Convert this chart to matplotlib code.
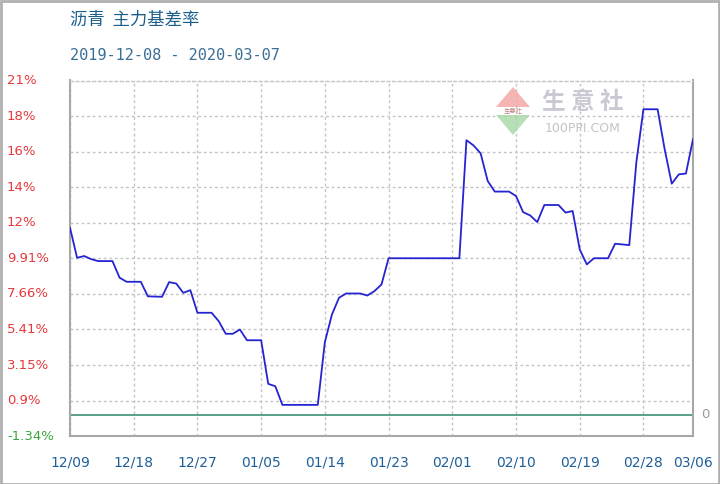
import matplotlib
matplotlib.use("Agg")
import matplotlib.pyplot as plt
import matplotlib.dates as mdates
import matplotlib.transforms as mtransforms
from matplotlib.patches import Polygon, Rectangle
import pandas as pd

plt.rcParams['font.family'] = ['DejaVu Sans', 'Noto Sans CJK SC']

title = "沥青  主力基差率"
subtitle = "2019-12-08 - 2020-03-07"

dates = ["2019-12-09", "2019-12-10", "2019-12-11", "2019-12-12", "2019-12-13",
         "2019-12-15", "2019-12-16", "2019-12-17", "2019-12-19", "2019-12-20",
         "2019-12-22", "2019-12-23", "2019-12-24", "2019-12-25", "2019-12-26",
         "2019-12-27", "2019-12-29", "2019-12-30", "2019-12-31", "2020-01-01",
         "2020-01-02", "2020-01-03", "2020-01-05", "2020-01-06", "2020-01-07",
         "2020-01-08", "2020-01-13", "2020-01-14", "2020-01-15", "2020-01-16",
         "2020-01-17", "2020-01-19", "2020-01-20", "2020-01-21", "2020-01-22",
         "2020-01-23", "2020-02-02", "2020-02-03", "2020-02-04", "2020-02-05",
         "2020-02-06", "2020-02-07", "2020-02-09", "2020-02-10", "2020-02-11",
         "2020-02-12", "2020-02-13", "2020-02-14", "2020-02-16", "2020-02-17",
         "2020-02-18", "2020-02-19", "2020-02-20", "2020-02-21", "2020-02-23",
         "2020-02-24", "2020-02-26", "2020-02-27", "2020-02-28", "2020-03-01",
         "2020-03-02", "2020-03-03", "2020-03-04", "2020-03-05", "2020-03-06"]
values = [11.84, 9.94, 10.05, 9.85, 9.73,
          9.73, 8.68, 8.42, 8.42, 7.50,
          7.47, 8.40, 8.31, 7.72, 7.89,
          6.46, 6.46, 5.93, 5.13, 5.13,
          5.40, 4.72, 4.72, 1.96, 1.81,
          0.63, 0.63, 4.60, 6.35, 7.41,
          7.68, 7.68, 7.55, 7.83, 8.25,
          9.91, 9.91, 17.38, 17.05, 16.55,
          14.80, 14.13, 14.13, 13.85, 12.83,
          12.62, 12.20, 13.28, 13.28, 12.80,
          12.90, 10.47, 9.52, 9.91, 9.91,
          10.83, 10.74, 16.00, 19.34, 19.34,
          16.80, 14.63, 15.22, 15.27, 17.44]

ytick_values = [-1.34, 0.90, 3.15, 5.41, 7.66, 9.91, 12.16, 14.41, 16.66, 18.91, 21.16]
ytick_labels = ["-1.34%", "0.9%", "3.15%", "5.41%", "7.66%", "9.91%",
                "12%", "14%", "16%", "18%", "21%"]
xtick_dates = ["2019-12-09", "2019-12-18", "2019-12-27", "2020-01-05", "2020-01-14",
               "2020-01-23", "2020-02-01", "2020-02-10", "2020-02-19", "2020-02-28",
               "2020-03-06"]
xtick_labels = ["12/09", "12/18", "12/27", "01/05", "01/14", "01/23",
                "02/01", "02/10", "02/19", "02/28", "03/06"]

W, H = 720, 484
fig = plt.figure(figsize=(W / 100, H / 100), dpi=100)
fig.patch.set_facecolor("white")

left, right, top, bottom = 70, 693, 80.5, 436
ax = fig.add_axes([left / W, 1 - bottom / H, (right - left) / W, (bottom - top) / H])

x = pd.to_datetime(dates)
ax.plot(x, values, color="#2424d2", lw=1.3, zorder=3)
ax.axhline(0, color="#3f8f78", lw=1.2, zorder=2)

ax.set_xlim(pd.Timestamp(xtick_dates[0]), pd.Timestamp(xtick_dates[-1]))
ax.set_ylim(ytick_values[0], ytick_values[-1])
ax.set_xticks(pd.to_datetime(xtick_dates))
ax.set_xticklabels(xtick_labels)
ax.set_yticks(ytick_values)
ax.set_yticklabels([])
ax.tick_params(axis="both", length=0)
ax.tick_params(axis="x", colors="#1f5f99", labelsize=10, pad=14)

ax.grid(True, color="#c4c4c4", linestyle=(0, (2, 2)), lw=1.0)
for s in ["left", "bottom", "right"]:
    ax.spines[s].set_color("#a8a8a8")
    ax.spines[s].set_linewidth(1.5)
ax.spines["top"].set_color("#c4c4c4")
ax.spines["top"].set_linestyle((0, (2, 2)))
ax.spines["top"].set_linewidth(1.0)

trans = mtransforms.blended_transform_factory(fig.transFigure, ax.transData)
for v, lab in zip(ytick_values, ytick_labels):
    col = "#3aa53a" if v < 0 else "#e8383d"
    ax.text(7 / W, v, lab, transform=trans, ha="left", va="center",
            color=col, fontsize=9.5, clip_on=False)

ax.text(701 / W, 0, "0", transform=trans, ha="left", va="center",
        color="#9a9a9a", fontsize=9.5)

fig.text(70 / W, 1 - 20 / H, title, color="#1b5e8c", fontsize=12.5,
         ha="left", va="center", family=["Noto Sans CJK SC", "DejaVu Sans"])
fig.text(70 / W, 1 - 56 / H, subtitle, color="#3a6f95", fontsize=11,
         ha="left", va="center", family=["DejaVu Sans Mono"])

# watermark logo
tri_top = Polygon([[513 / W, 1 - 87 / H], [496 / W, 1 - 107 / H], [530 / W, 1 - 107 / H]],
                  closed=True, transform=fig.transFigure, facecolor="#f3a3a3",
                  edgecolor="none", alpha=0.8)
tri_bot = Polygon([[496 / W, 1 - 115 / H], [530 / W, 1 - 115 / H], [513 / W, 1 - 135 / H]],
                  closed=True, transform=fig.transFigure, facecolor="#a6d9a6",
                  edgecolor="none", alpha=0.8)
fig.patches.extend([tri_top, tri_bot])
fig.text(513 / W, 1 - 111 / H, "生意社", fontsize=4.5, color="#c08080", ha="center",
         va="center", family=["Noto Sans CJK SC"])
fig.text(583 / W, 1 - 102 / H, "生 意 社", fontsize=17, color="#c9c9d4", ha="center",
         va="center", family=["Noto Sans CJK SC"], fontweight="bold")
fig.text(583 / W, 1 - 129 / H, "100PPI.COM", fontsize=9, color="#c4c4c4", ha="center",
         va="center")

border = Rectangle((0.5 / W, 0.5 / H), 1 - 1.5 / W, 1 - 1.5 / H, transform=fig.transFigure,
                   fill=False, edgecolor="#b0b0b0", lw=2)
fig.patches.append(border)

fig.savefig("out.png", dpi=100)
